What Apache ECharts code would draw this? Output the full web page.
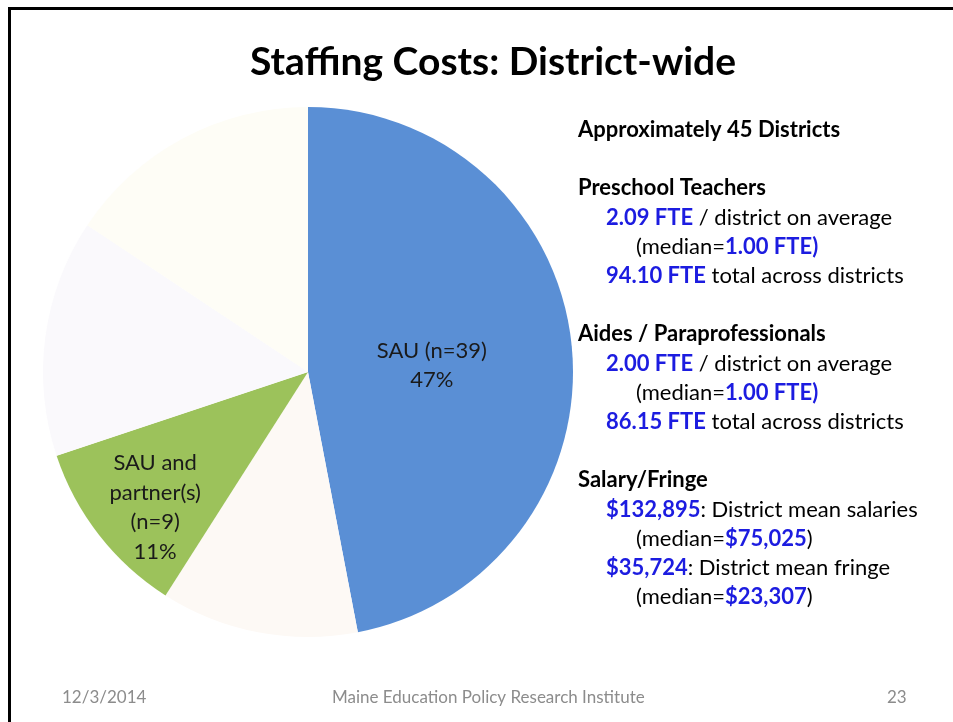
<!DOCTYPE html>
<html>
<head>
<meta charset="utf-8">
<script src="https://cdn.jsdelivr.net/npm/echarts@6/dist/echarts.min.js"></script>
<style>
html,body{margin:0;padding:0;background:#fff;}
#main{width:953px;height:722px;}
</style>
</head>
<body>
<div id="main"></div>
<script>
// pie data, clockwise from 12 o'clock
var sliceNames = ['SAU', 'Other A', 'SAU and partner(s)', 'Other B', 'Other C'];
var sliceCounts = [39, 10, 9, 12, 13];
var sliceLabels = ['SAU (n=39)\n47%', '', 'SAU and\npartner(s)\n(n=9)\n11%', '', ''];
var sliceColors = ['#5a8fd5', '#fdf9f5', '#9cc25b', '#faf9fc', '#fefdf6'];

// side notes: [indent level, [text, style] ...]
var noteLines = [
    [0, [['Approximately 45 Districts', 'h']]],
    null,
    [0, [['Preschool Teachers', 'h']]],
    [1, [['2.09 FTE', 'b'], [' / district on average', 'n']]],
    [2, [['(median=', 'n'], ['1.00 FTE)', 'b']]],
    [1, [['94.10 FTE', 'b'], [' total across districts', 'n']]],
    null,
    [0, [['Aides / Paraprofessionals', 'h']]],
    [1, [['2.00 FTE', 'b'], [' / district on average', 'n']]],
    [2, [['(median=', 'n'], ['1.00 FTE)', 'b']]],
    [1, [['86.15 FTE', 'b'], [' total across districts', 'n']]],
    null,
    [0, [['Salary/Fringe', 'h']]],
    [1, [['$132,895', 'b'], [': District mean salaries', 'n']]],
    [2, [['(median=', 'n'], ['$75,025', 'b'], [')', 'n']]],
    [1, [['$35,724', 'b'], [': District mean fringe', 'n']]],
    [2, [['(median=', 'n'], ['$23,307', 'b'], [')', 'n']]]
];

var fontFam = 'Lato, "Open Sans", sans-serif';
var chart = echarts.init(document.getElementById('main'));

var graphics = [];
// slide border (top and left edges)
graphics.push({type: 'line', shape: {x1: 8, y1: 8.5, x2: 953, y2: 8.5}, style: {stroke: '#000', lineWidth: 3}});
graphics.push({type: 'line', shape: {x1: 9.5, y1: 7, x2: 9.5, y2: 722}, style: {stroke: '#000', lineWidth: 3}});

var indents = [578, 606, 636];
var y = 130;
noteLines.forEach(function(line){
    if(line){
        var txt = line[1].map(function(p){ return '{' + p[1] + '|' + p[0] + '}'; }).join('');
        graphics.push({
            type: 'text',
            left: indents[line[0]],
            top: y - 11,
            style: {
                text: txt,
                rich: {
                    h: {fontFamily: fontFam, fontSize: 22, fontWeight: 'bold', fill: '#000'},
                    b: {fontFamily: fontFam, fontSize: 22, fontWeight: 'bold', fill: '#1c1ce0'},
                    n: {fontFamily: fontFam, fontSize: 22, fill: '#000'}
                }
            }
        });
    }
    y += 29.2;
});

// footer
var footStyle = {fontFamily: fontFam, fontSize: 17, fill: '#8c8c8c'};
graphics.push({type: 'text', left: 62, top: 689, style: Object.assign({text: '12/3/2014'}, footStyle)});
graphics.push({type: 'text', left: 332, top: 689, style: Object.assign({text: 'Maine Education Policy Research Institute'}, footStyle)});
graphics.push({type: 'text', left: 887, top: 689, style: Object.assign({text: '23'}, footStyle)});

var pieData = sliceNames.map(function(n, i){
    return {
        name: n,
        value: sliceCounts[i],
        itemStyle: {color: sliceColors[i]},
        label: {show: sliceLabels[i] !== '', formatter: sliceLabels[i]}
    };
});

var option = {
    animation: false,
    backgroundColor: '#fff',
    title: {
        text: 'Staffing Costs: District-wide',
        left: 245,
        top: 38,
        textStyle: {fontFamily: fontFam, fontSize: 39, fontWeight: 'bold', color: '#000'}
    },
    graphic: graphics,
    series: [{
        type: 'pie',
        center: [308, 372],
        radius: [0, 265],
        startAngle: 90,
        clockwise: true,
        avoidLabelOverlap: false,
        label: {
            position: 'inside',
            fontFamily: fontFam,
            fontSize: 22,
            lineHeight: 29.5,
            color: '#1a1a1a'
        },
        labelLayout: function(p){
            if(p.dataIndex === 0) return {dx: -11, dy: 6};
            if(p.dataIndex === 2) return {dx: -46, dy: 52};
        },
        labelLine: {show: false},
        itemStyle: {borderWidth: 0},
        emphasis: {disabled: true},
        data: pieData
    }]
};
chart.setOption(option);
</script>
</body>
</html>
